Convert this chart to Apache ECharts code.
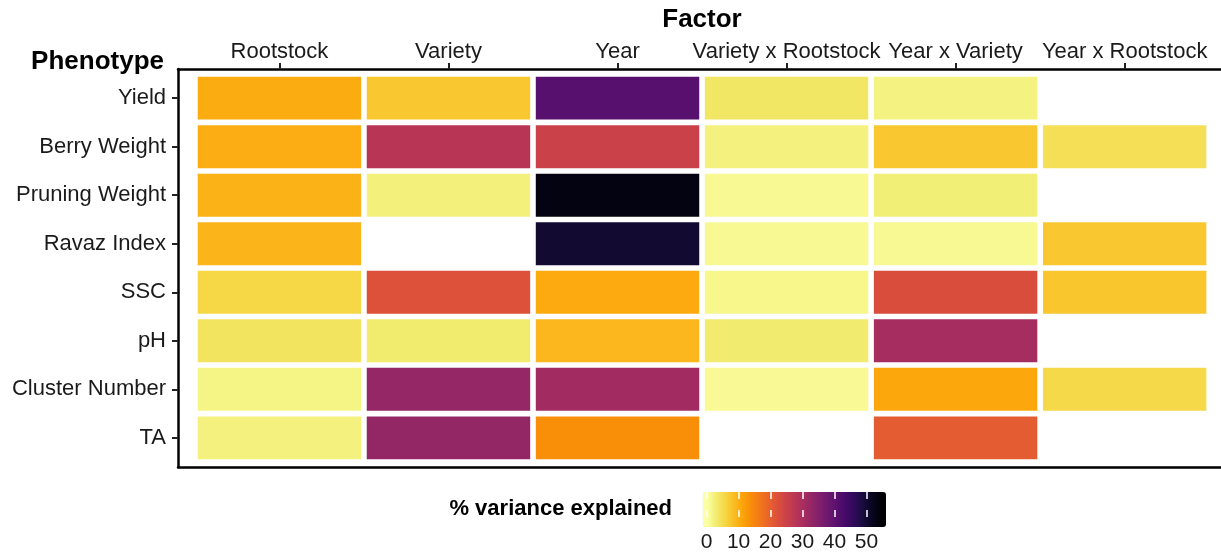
<!DOCTYPE html>
<html>
<head>
<meta charset="utf-8">
<script src="https://cdn.jsdelivr.net/npm/echarts@6/dist/echarts.min.js"></script>
<style>
html,body{margin:0;padding:0;background:#fff;}
#chart{width:1221px;height:553px;}
</style>
</head>
<body>
<div id="chart"></div>
<script>
// ---- data ----
const factors = ['Rootstock', 'Variety', 'Year', 'Variety x Rootstock', 'Year x Variety', 'Year x Rootstock'];
const phenotypes = ['Yield', 'Berry Weight', 'Pruning Weight', 'Ravaz Index', 'SSC', 'pH', 'Cluster Number', 'TA'];
// % variance explained per phenotype, in factor order (null = not estimated)
const yieldVals         = [10.4, 7.5, 41.0, 3.7, 2.0, null];
const berryWeightVals   = [10.2, 28.0, 25.0, 2.2, 7.4, 4.6];
const pruningWeightVals = [9.8, 2.4, 53.2, 1.1, 2.6, null];
const ravazIndexVals    = [9.4, null, 50.0, 1.1, 1.1, 7.4];
const sscVals           = [5.6, 22.0, 10.6, 1.5, 22.6, 7.6];
const phVals            = [4.0, 3.1, 9.2, 3.0, 30.5, null];
const clusterNumberVals = [1.8, 32.5, 31.0, 1.0, 10.8, 5.5];
const taVals            = [2.2, 32.8, 13.8, null, 20.5, null];
const legendTicks = [0, 10, 20, 30, 40, 50];
const scaleMin = 0.2, scaleMax = 54.7;

const rows = [yieldVals, berryWeightVals, pruningWeightVals, ravazIndexVals, sscVals, phVals, clusterNumberVals, taVals];
const cells = [];
rows.forEach((r, yi) => r.forEach((v, xi) => { if (v !== null) cells.push([xi, yi, v]); }));

// ---- inferno palette (style), 21 stops ----
const infernoStops = ['#000004','#08051D','#160B39','#2C0B57','#420A68','#57106E','#6A176E','#7F1E6C','#932667','#A82E5F',
  '#BC3754','#CC4248','#DD513A','#E9642A','#F37819','#F98E09','#FCA50A','#FABF25','#F6D746','#F1ED71','#FCFFA4'];
function hex2rgb(h){return [parseInt(h.slice(1,3),16),parseInt(h.slice(3,5),16),parseInt(h.slice(5,7),16)];}
function inferno(t){
  t = Math.max(0, Math.min(1, t));
  const n = infernoStops.length - 1;
  const p = t * n, i = Math.min(n - 1, Math.floor(p)), f = p - i;
  const a = hex2rgb(infernoStops[i]), b = hex2rgb(infernoStops[i+1]);
  const c = a.map((x, k) => Math.round(x + (b[k]-x)*f));
  return 'rgb(' + c.join(',') + ')';
}
// colourbar in ggplot style: the value range occupies 19/20 of the bar
const ext = (scaleMax - scaleMin) * 0.5 / 19;
const vmMin = scaleMin - ext, vmMax = scaleMax + ext;
const N = 120, vmColors = [];
for (let k = 0; k <= N; k++) {
  const v = vmMin + (vmMax - vmMin) * k / N;
  vmColors.push(inferno(1 - (v - scaleMin) / (scaleMax - scaleMin)));
}

const FONT = "'Liberation Sans', Arial, Helvetica, sans-serif";
const TXT = '#1a1a1a';
const frameLine = {show: true, onZero: false, lineStyle: {color: '#000', width: 2.5}};
const chart = echarts.init(document.getElementById('chart'));
chart.setOption({
  animation: false,
  backgroundColor: '#fff',
  grid: [
    {left: 178, top: 69, width: 1043, height: 398, show: false},
    {left: 702.7, top: 492, width: 183.3, height: 35, show: false}
  ],
  xAxis: [
    {gridIndex: 0, type: 'value', position: 'top', min: -0.6, max: 5.57,
     axisLine: frameLine, splitLine: {show: false},
     axisTick: {show: true, length: 6, lineStyle: {color: '#222', width: 2}, customValues: [0,1,2,3,4,5]},
     axisLabel: {customValues: [0,1,2,3,4,5], formatter: v => factors[Math.round(v)], fontFamily: FONT, fontSize: 22, color: TXT, margin: 6}},
    {gridIndex: 1, type: 'value', position: 'bottom', min: vmMin, max: vmMax, z: 10,
     axisLine: {show: false, onZero: false}, splitLine: {show: false},
     axisTick: {show: true, inside: true, length: 7, lineStyle: {color: '#fff', width: 1.5}, customValues: legendTicks},
     axisLabel: {customValues: legendTicks, fontFamily: FONT, fontSize: 21, color: TXT, margin: 15}},
    {gridIndex: 1, type: 'value', position: 'top', min: vmMin, max: vmMax, z: 10,
     axisLine: {show: false, onZero: false}, splitLine: {show: false},
     axisTick: {show: true, inside: true, length: 7, lineStyle: {color: '#fff', width: 1.5}, customValues: legendTicks},
     axisLabel: {show: false}},
    {gridIndex: 0, type: 'value', position: 'bottom', min: -0.6, max: 5.57,
     axisLine: frameLine, splitLine: {show: false}, axisTick: {show: false}, axisLabel: {show: false}}
  ],
  yAxis: [
    {gridIndex: 0, type: 'value', inverse: true, min: -0.6, max: 7.6,
     axisLine: frameLine, splitLine: {show: false},
     axisTick: {show: true, length: 6, lineStyle: {color: '#222', width: 2}, customValues: [0,1,2,3,4,5,6,7]},
     axisLabel: {customValues: [0,1,2,3,4,5,6,7], formatter: v => phenotypes[Math.round(v)], fontFamily: FONT, fontSize: 22, color: TXT, margin: 12}},
    {gridIndex: 1, type: 'value', min: 0, max: 1, show: false}
  ],
  visualMap: {
    type: 'continuous', min: vmMin, max: vmMax, dimension: 2, seriesIndex: 0,
    orient: 'horizontal', left: 702.7, top: 492, itemWidth: 35, itemHeight: 183.3,
    padding: 0, calculable: false, text: null, showLabel: false, realtime: false, hoverLink: false,
    inRange: {color: vmColors}
  },
  graphic: [
    {type: 'text', z: 20, style: {text: 'Factor', x: 702, y: 20, font: 'bold 26px ' + FONT, fill: '#000', align: 'center', verticalAlign: 'middle'}},
    {type: 'text', z: 20, style: {text: 'Phenotype', x: 164, y: 62, font: 'bold 26px ' + FONT, fill: '#000', align: 'right', verticalAlign: 'middle'}},
    {type: 'text', z: 20, style: {text: '% variance explained', x: 672, y: 509, font: 'bold 22px ' + FONT, fill: '#000', align: 'right', verticalAlign: 'middle'}}
  ],
  series: [
    {type: 'custom', xAxisIndex: 0, yAxisIndex: 0, data: cells, encode: {x: 0, y: 1},
     renderItem: function (params, api) {
       const c = api.coord([api.value(0), api.value(1)]);
       const s = api.size([1, 1]);
       const g = 2.8;
       return {type: 'rect', shape: {x: c[0] - s[0]/2 + g, y: c[1] - s[1]/2 + g, width: s[0] - 2*g, height: s[1] - 2*g},
               style: {fill: api.visual('color')}};
     }}
  ]
});
</script>
</body>
</html>
